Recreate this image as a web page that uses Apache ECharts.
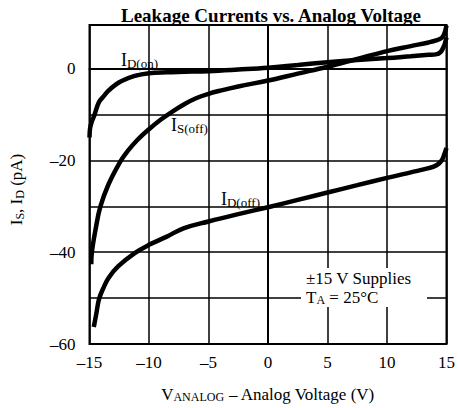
<!DOCTYPE html>
<html>
<head>
<meta charset="utf-8">
<script src="https://cdn.jsdelivr.net/npm/echarts@6/dist/echarts.min.js"></script>
<style>
html, body { margin: 0; padding: 0; background: #fff; }
#chart { width: 458px; height: 408px; }
</style>
</head>
<body>
<div id="chart"></div>
<script>
// I_D(on) curve
const idOnV = [-15, -14.95, -14.8, -14.6, -14.2, -13.8, -13.4, -12.8, -12.3, -11.2, -10, -8.5, -7, -5, -2.5, 0, 2.5, 5, 7.5, 10, 12, 13.5, 14.1, 14.5, 14.8, 14.9, 15]
const idOnI = [-15, -13, -11.5, -10.2, -7.3, -6, -4.8, -3.5, -2.7, -1.6, -1.0, -0.8, -0.7, -0.55, -0.2, 0.2, 0.8, 1.4, 1.9, 2.3, 2.7, 3.0, 3.1, 3.6, 5.0, 5.8, 6.8]
// I_S(off) curve
const isOffV = [-14.85, -14.8, -14.5, -14.1, -13.4, -12.4, -11.8, -11, -10, -9, -8, -7, -6, -5, -4, -2.5, 0, 2.5, 5, 7.5, 10, 12, 13.5, 14.2, 14.6, 14.8, 14.9, 15]
const isOffI = [-42.6, -40, -35.2, -30.2, -25.2, -20.2, -18, -15.6, -13.2, -11.1, -9.3, -7.7, -6.4, -5.5, -4.8, -3.9, -2.6, -1.1, 0.4, 2.1, 3.8, 4.9, 5.7, 6.2, 6.7, 7.5, 8.3, 9.4]
// I_D(off) curve
const idOffV = [-14.64, -14.4, -14.2, -13.8, -13.4, -12.6, -11.2, -10, -8.5, -7.1, -5, -2.5, 0, 2.5, 5, 7.5, 10, 12, 13.5, 14.2, 14.6, 14.8, 15]
const idOffI = [-56.3, -53, -50.2, -47.6, -45.6, -43.1, -40.2, -38.4, -36.6, -34.8, -33.3, -31.7, -30.2, -28.6, -27, -25.4, -23.8, -22.6, -21.7, -21, -20, -18.8, -17.3]

const yTickLabels = [0, -20, -40, -60]
const xTickLabels = [-15, -10, -5, 0, 5, 10, 15]

const serif = 'Liberation Serif'
const fmt = v => (v < 0 ? '\u2013' + Math.abs(v) : String(v))
const pairs = (xs, ys) => xs.map((x, i) => [x, ys[i]])
const subRich = {
  m: { fontFamily: serif, fontSize: 17, color: '#000' },
  s: { fontFamily: serif, fontSize: 12, color: '#000', padding: [6, 0, 0, 0] }
}
const labelRich = {
  m: { fontFamily: serif, fontSize: 18, color: '#000' },
  s: { fontFamily: serif, fontSize: 13, color: '#000', padding: [6, 0, 0, 0] }
}
const curveLabel = (x, y, main, sub) => ({
  type: 'text', x: x, y: y, z: 100,
  style: {
    text: '{m|' + main + '}{s|' + sub + '}',
    rich: labelRich,
    align: 'left', verticalAlign: 'middle',
    textAlign: 'left', textVerticalAlign: 'middle'
  }
})

const chart = echarts.init(document.getElementById('chart'), null, { renderer: 'svg' })
const lineSeries = data => ({
  type: 'line',
  data: data,
  showSymbol: false,
  smooth: 0.4,
  lineStyle: { color: '#000', width: 4.5 },
  z: 5
})
const option = {
  animation: false,
  backgroundColor: '#fff',
  title: {
    text: 'Leakage Currents vs. Analog Voltage',
    left: 266,
    top: 1,
    textAlign: 'center',
    textStyle: { fontFamily: serif, fontSize: 19, fontWeight: 'bold', color: '#000' }
  },
  grid: {
    left: 84, right: 10, top: 25, bottom: 59,
    show: true, borderColor: '#000', borderWidth: 2
  },
  xAxis: {
    type: 'value',
    min: -15, max: 15, interval: 5,
    axisLine: { show: true, lineStyle: { color: '#000', width: 2 } },
    axisTick: { show: false },
    axisLabel: {
      margin: 10,
      color: '#000', fontFamily: serif, fontSize: 17,
      formatter: v => (xTickLabels.includes(v) ? fmt(v) : '')
    },
    splitLine: { show: true, lineStyle: { color: '#000', width: 1.5 } },
    name: '{m|V}{s|ANALOG}{m| \u2013 Analog Voltage (V)}',
    nameLocation: 'middle',
    nameGap: 41,
    nameTextStyle: { rich: subRich }
  },
  yAxis: {
    type: 'value',
    min: -60, max: 9.5, interval: 10,
    axisLine: { show: true, lineStyle: { color: '#000', width: 2 } },
    axisTick: { show: false },
    axisLabel: {
      margin: 14,
      color: '#000', fontFamily: serif, fontSize: 17,
      formatter: v => (yTickLabels.includes(v) ? fmt(v) : '')
    },
    splitLine: { show: true, lineStyle: { color: '#000', width: 1.5 } },
    name: '{m|I}{s|S}{m|, I}{s|D}{m| (pA)}',
    nameLocation: 'middle',
    nameGap: 64,
    nameTextStyle: { rich: subRich, padding: [0, 10, 0, 0] }
  },
  graphic: [
    {
      type: 'rect', z: 100,
      shape: { x: 301, y: 268, width: 126, height: 39 },
      style: { fill: '#fff' }
    },
    {
      type: 'text', x: 306, y: 278, z: 101,
      style: {
        text: '\u00b115 V Supplies',
        fontFamily: serif, fontSize: 17, fill: '#000',
        align: 'left', verticalAlign: 'middle',
        textAlign: 'left', textVerticalAlign: 'middle'
      }
    },
    {
      type: 'text', x: 306, y: 297, z: 101,
      style: {
        text: '{m|T}{s|A}{m| = 25\u00b0C}',
        rich: subRich,
        align: 'left', verticalAlign: 'middle',
        textAlign: 'left', textVerticalAlign: 'middle'
      }
    },
    curveLabel(121, 60, 'I', 'D(on)'),
    curveLabel(171, 125, 'I', 'S(off)'),
    curveLabel(221, 199, 'I', 'D(off)')
  ],
  series: [
    lineSeries(pairs(idOnV, idOnI)),
    lineSeries(pairs(isOffV, isOffI)),
    lineSeries(pairs(idOffV, idOffI))
  ]
}
chart.setOption(option)
</script>
</body>
</html>
